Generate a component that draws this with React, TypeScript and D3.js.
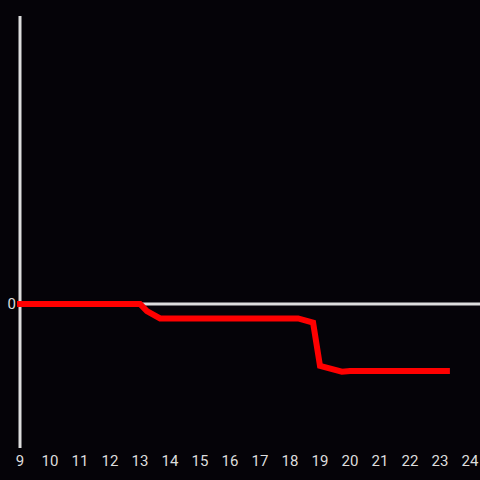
import React from "react";
import * as d3 from "d3";

const xTicks = [9, 10, 11, 12, 13, 14, 15, 16, 17, 18, 19, 20, 21, 22, 23, 24];
const seriesX = [9, 13, 13.23, 13.67, 18.27, 18.77, 19.0, 19.73, 20, 23.23];
const seriesY = [0, 0, -0.05, -0.1, -0.1, -0.13, -0.43, -0.47, -0.465, -0.465];
const yTicks = [0];

export default function App() {
  const W = 480, H = 480;
  const x = d3.scaleLinear().domain([9, 24]).range([20, 470]);
  const y = d3.scaleLinear().domain([-1, 2]).range([448, 16]);
  const pts: [number, number][] = seriesX.map((v, i) => [v, seriesY[i]]);
  const line = d3.line<[number, number]>().x(d => x(d[0])).y(d => y(d[1]));
  const font = "Roboto, 'Liberation Sans', Arial, sans-serif";
  return (
    <svg width={W} height={H} style={{ position: "absolute", left: 0, top: 0, background: "#050308" }}>
      <rect x={0} y={0} width={W} height={H} fill="#050308" />
      <line x1={x(9)} x2={W} y1={y(0)} y2={y(0)} stroke="#dddddd" strokeWidth={3} />
      <line x1={x(9)} x2={x(9)} y1={16} y2={448} stroke="#dddddd" strokeWidth={3} />
      <path d={line(pts) || ""} fill="none" stroke="#ff0000" strokeWidth={6} strokeLinecap="square" strokeLinejoin="miter" />
      {xTicks.map(t => (
        <text key={t} x={x(t)} y={466} textAnchor="middle" fill="#dddddd" fontSize={15} fontFamily={font}>{t}</text>
      ))}
      {yTicks.map(t => (
        <text key={t} x={16} y={y(t)} dy="0.35em" textAnchor="end" fill="#dddddd" fontSize={15} fontFamily={font}>{t}</text>
      ))}
    </svg>
  );
}
